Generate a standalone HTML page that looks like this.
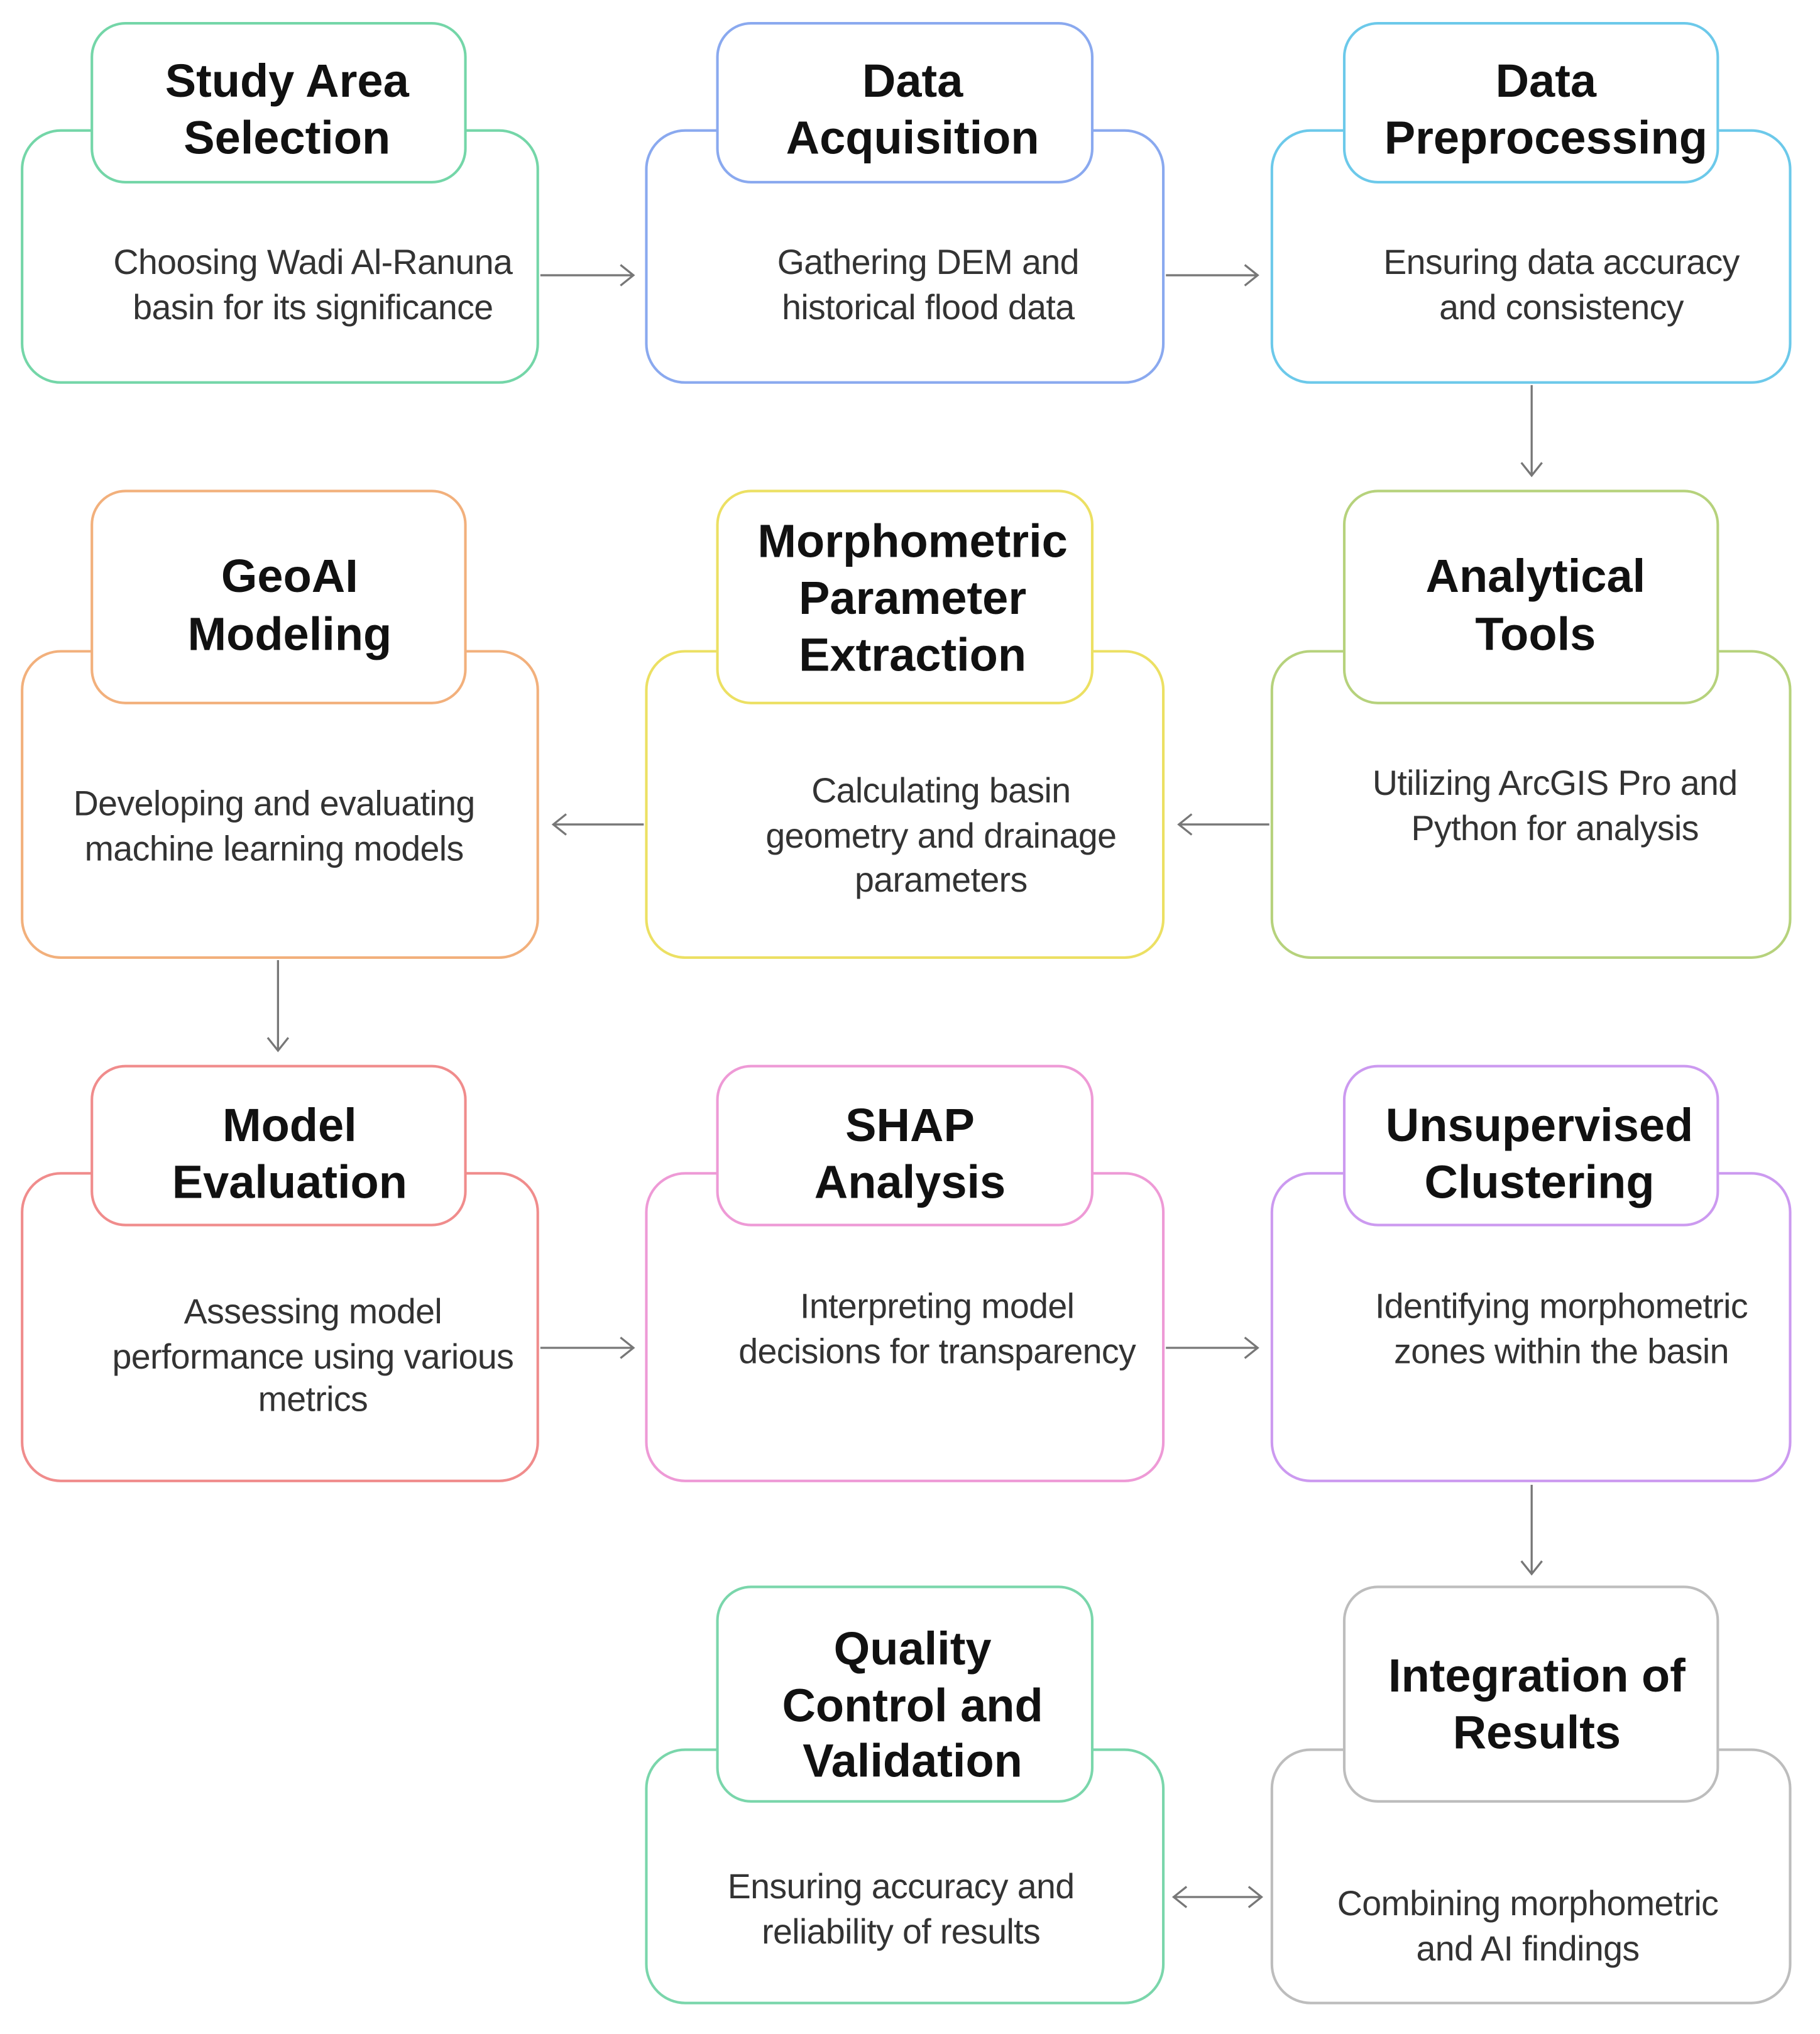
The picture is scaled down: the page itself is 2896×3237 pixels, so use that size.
<!DOCTYPE html>
<html><head><meta charset="utf-8">
<style>
html,body{margin:0;padding:0;background:#fff;}
svg{display:block;}
.t{font-family:"Liberation Sans",Arial,sans-serif;font-weight:bold;font-size:36px;fill:#111;text-anchor:middle;}
.b{font-family:"Liberation Sans",Arial,sans-serif;font-size:27px;fill:#333;text-anchor:middle;letter-spacing:-0.3px;}
.a{stroke:#777;stroke-width:1.6;fill:none;}
</style></head><body>
<svg width="2896" height="3237" viewBox="0 0 1408 1574" xmlns="http://www.w3.org/2000/svg">
<rect width="1408" height="1574" fill="#fff"/>
<!-- Row 1 -->
<rect x="17" y="101" width="399" height="195" rx="30" fill="#fff" stroke="#74d6a8" stroke-width="2"/>
<rect x="71" y="18" width="289" height="123" rx="26" fill="#fff" stroke="#74d6a8" stroke-width="2"/>
<rect x="500" y="101" width="400" height="195" rx="30" fill="#fff" stroke="#8aa9ef" stroke-width="2"/>
<rect x="555" y="18" width="290" height="123" rx="26" fill="#fff" stroke="#8aa9ef" stroke-width="2"/>
<rect x="984" y="101" width="401" height="195" rx="30" fill="#fff" stroke="#6cc9ea" stroke-width="2"/>
<rect x="1040" y="18" width="289" height="123" rx="26" fill="#fff" stroke="#6cc9ea" stroke-width="2"/>
<text class="t" x="222" y="75">Study Area</text><text class="t" x="222" y="119">Selection</text>
<text class="t" x="706" y="75">Data</text><text class="t" x="706" y="119">Acquisition</text>
<text class="t" x="1196" y="75">Data</text><text class="t" x="1196" y="119">Preprocessing</text>
<text class="b" x="242" y="212">Choosing Wadi Al-Ranuna</text><text class="b" x="242" y="247">basin for its significance</text>
<text class="b" x="718" y="212">Gathering DEM and</text><text class="b" x="718" y="247">historical flood data</text>
<text class="b" x="1208" y="212">Ensuring data accuracy</text><text class="b" x="1208" y="247">and consistency</text>
<!-- Row 2 -->
<rect x="17" y="504" width="399" height="237" rx="30" fill="#fff" stroke="#f2b07c" stroke-width="2"/>
<rect x="71" y="380" width="289" height="164" rx="26" fill="#fff" stroke="#f2b07c" stroke-width="2"/>
<rect x="500" y="504" width="400" height="237" rx="30" fill="#fff" stroke="#ece063" stroke-width="2"/>
<rect x="555" y="380" width="290" height="164" rx="26" fill="#fff" stroke="#ece063" stroke-width="2"/>
<rect x="984" y="504" width="401" height="237" rx="30" fill="#fff" stroke="#b6d27c" stroke-width="2"/>
<rect x="1040" y="380" width="289" height="164" rx="26" fill="#fff" stroke="#b6d27c" stroke-width="2"/>
<text class="t" x="224" y="458">GeoAI</text><text class="t" x="224" y="503">Modeling</text>
<text class="t" x="706" y="431">Morphometric</text><text class="t" x="706" y="475">Parameter</text><text class="t" x="706" y="519">Extraction</text>
<text class="t" x="1188" y="458">Analytical</text><text class="t" x="1188" y="503">Tools</text>
<text class="b" x="212" y="631">Developing and evaluating</text><text class="b" x="212" y="666">machine learning models</text>
<text class="b" x="728" y="621">Calculating basin</text><text class="b" x="728" y="656">geometry and drainage</text><text class="b" x="728" y="690">parameters</text>
<text class="b" x="1203" y="615">Utilizing ArcGIS Pro and</text><text class="b" x="1203" y="650">Python for analysis</text>
<!-- Row 3 -->
<rect x="17" y="908" width="399" height="238" rx="30" fill="#fff" stroke="#f08c8c" stroke-width="2"/>
<rect x="71" y="825" width="289" height="123" rx="26" fill="#fff" stroke="#f08c8c" stroke-width="2"/>
<rect x="500" y="908" width="400" height="238" rx="30" fill="#fff" stroke="#ee9ad6" stroke-width="2"/>
<rect x="555" y="825" width="290" height="123" rx="26" fill="#fff" stroke="#ee9ad6" stroke-width="2"/>
<rect x="984" y="908" width="401" height="238" rx="30" fill="#fff" stroke="#cc9af0" stroke-width="2"/>
<rect x="1040" y="825" width="289" height="123" rx="26" fill="#fff" stroke="#cc9af0" stroke-width="2"/>
<text class="t" x="224" y="883">Model</text><text class="t" x="224" y="927">Evaluation</text>
<text class="t" x="704" y="883">SHAP</text><text class="t" x="704" y="927">Analysis</text>
<text class="t" x="1191" y="883">Unsupervised</text><text class="t" x="1191" y="927">Clustering</text>
<text class="b" x="242" y="1024">Assessing model</text><text class="b" x="242" y="1059">performance using various</text><text class="b" x="242" y="1092">metrics</text>
<text class="b" x="725" y="1020">Interpreting model</text><text class="b" x="725" y="1055">decisions for transparency</text>
<text class="b" x="1208" y="1020">Identifying morphometric</text><text class="b" x="1208" y="1055">zones within the basin</text>
<!-- Row 4 -->
<rect x="500" y="1354" width="400" height="196" rx="30" fill="#fff" stroke="#7ad6ab" stroke-width="2"/>
<rect x="555" y="1228" width="290" height="166" rx="26" fill="#fff" stroke="#7ad6ab" stroke-width="2"/>
<rect x="984" y="1354" width="401" height="196" rx="30" fill="#fff" stroke="#bdbdbd" stroke-width="2"/>
<rect x="1040" y="1228" width="289" height="166" rx="26" fill="#fff" stroke="#bdbdbd" stroke-width="2"/>
<text class="t" x="706" y="1288">Quality</text><text class="t" x="706" y="1332">Control and</text><text class="t" x="706" y="1375">Validation</text>
<text class="t" x="1189" y="1309">Integration of</text><text class="t" x="1189" y="1353">Results</text>
<text class="b" x="697" y="1469">Ensuring accuracy and</text><text class="b" x="697" y="1504">reliability of results</text>
<text class="b" x="1182" y="1482">Combining morphometric</text><text class="b" x="1182" y="1517">and AI findings</text>
<!-- Arrows -->
<path class="a" d="M418 213H490M480 205L490 213L480 221"/>
<path class="a" d="M902 213H973M963 205L973 213L963 221"/>
<path class="a" d="M1185 298V368M1177 358L1185 368L1193 358"/>
<path class="a" d="M498 638H428M438 630L428 638L438 646"/>
<path class="a" d="M982 638H912M922 630L912 638L922 646"/>
<path class="a" d="M215 743V813M207 803L215 813L223 803"/>
<path class="a" d="M418 1043H490M480 1035L490 1043L480 1051"/>
<path class="a" d="M902 1043H973M963 1035L973 1043L963 1051"/>
<path class="a" d="M1185 1149V1218M1177 1208L1185 1218L1193 1208"/>
<path class="a" d="M908 1468H976M918 1460L908 1468L918 1476M966 1460L976 1468L966 1476"/>
</svg>
</body></html>
